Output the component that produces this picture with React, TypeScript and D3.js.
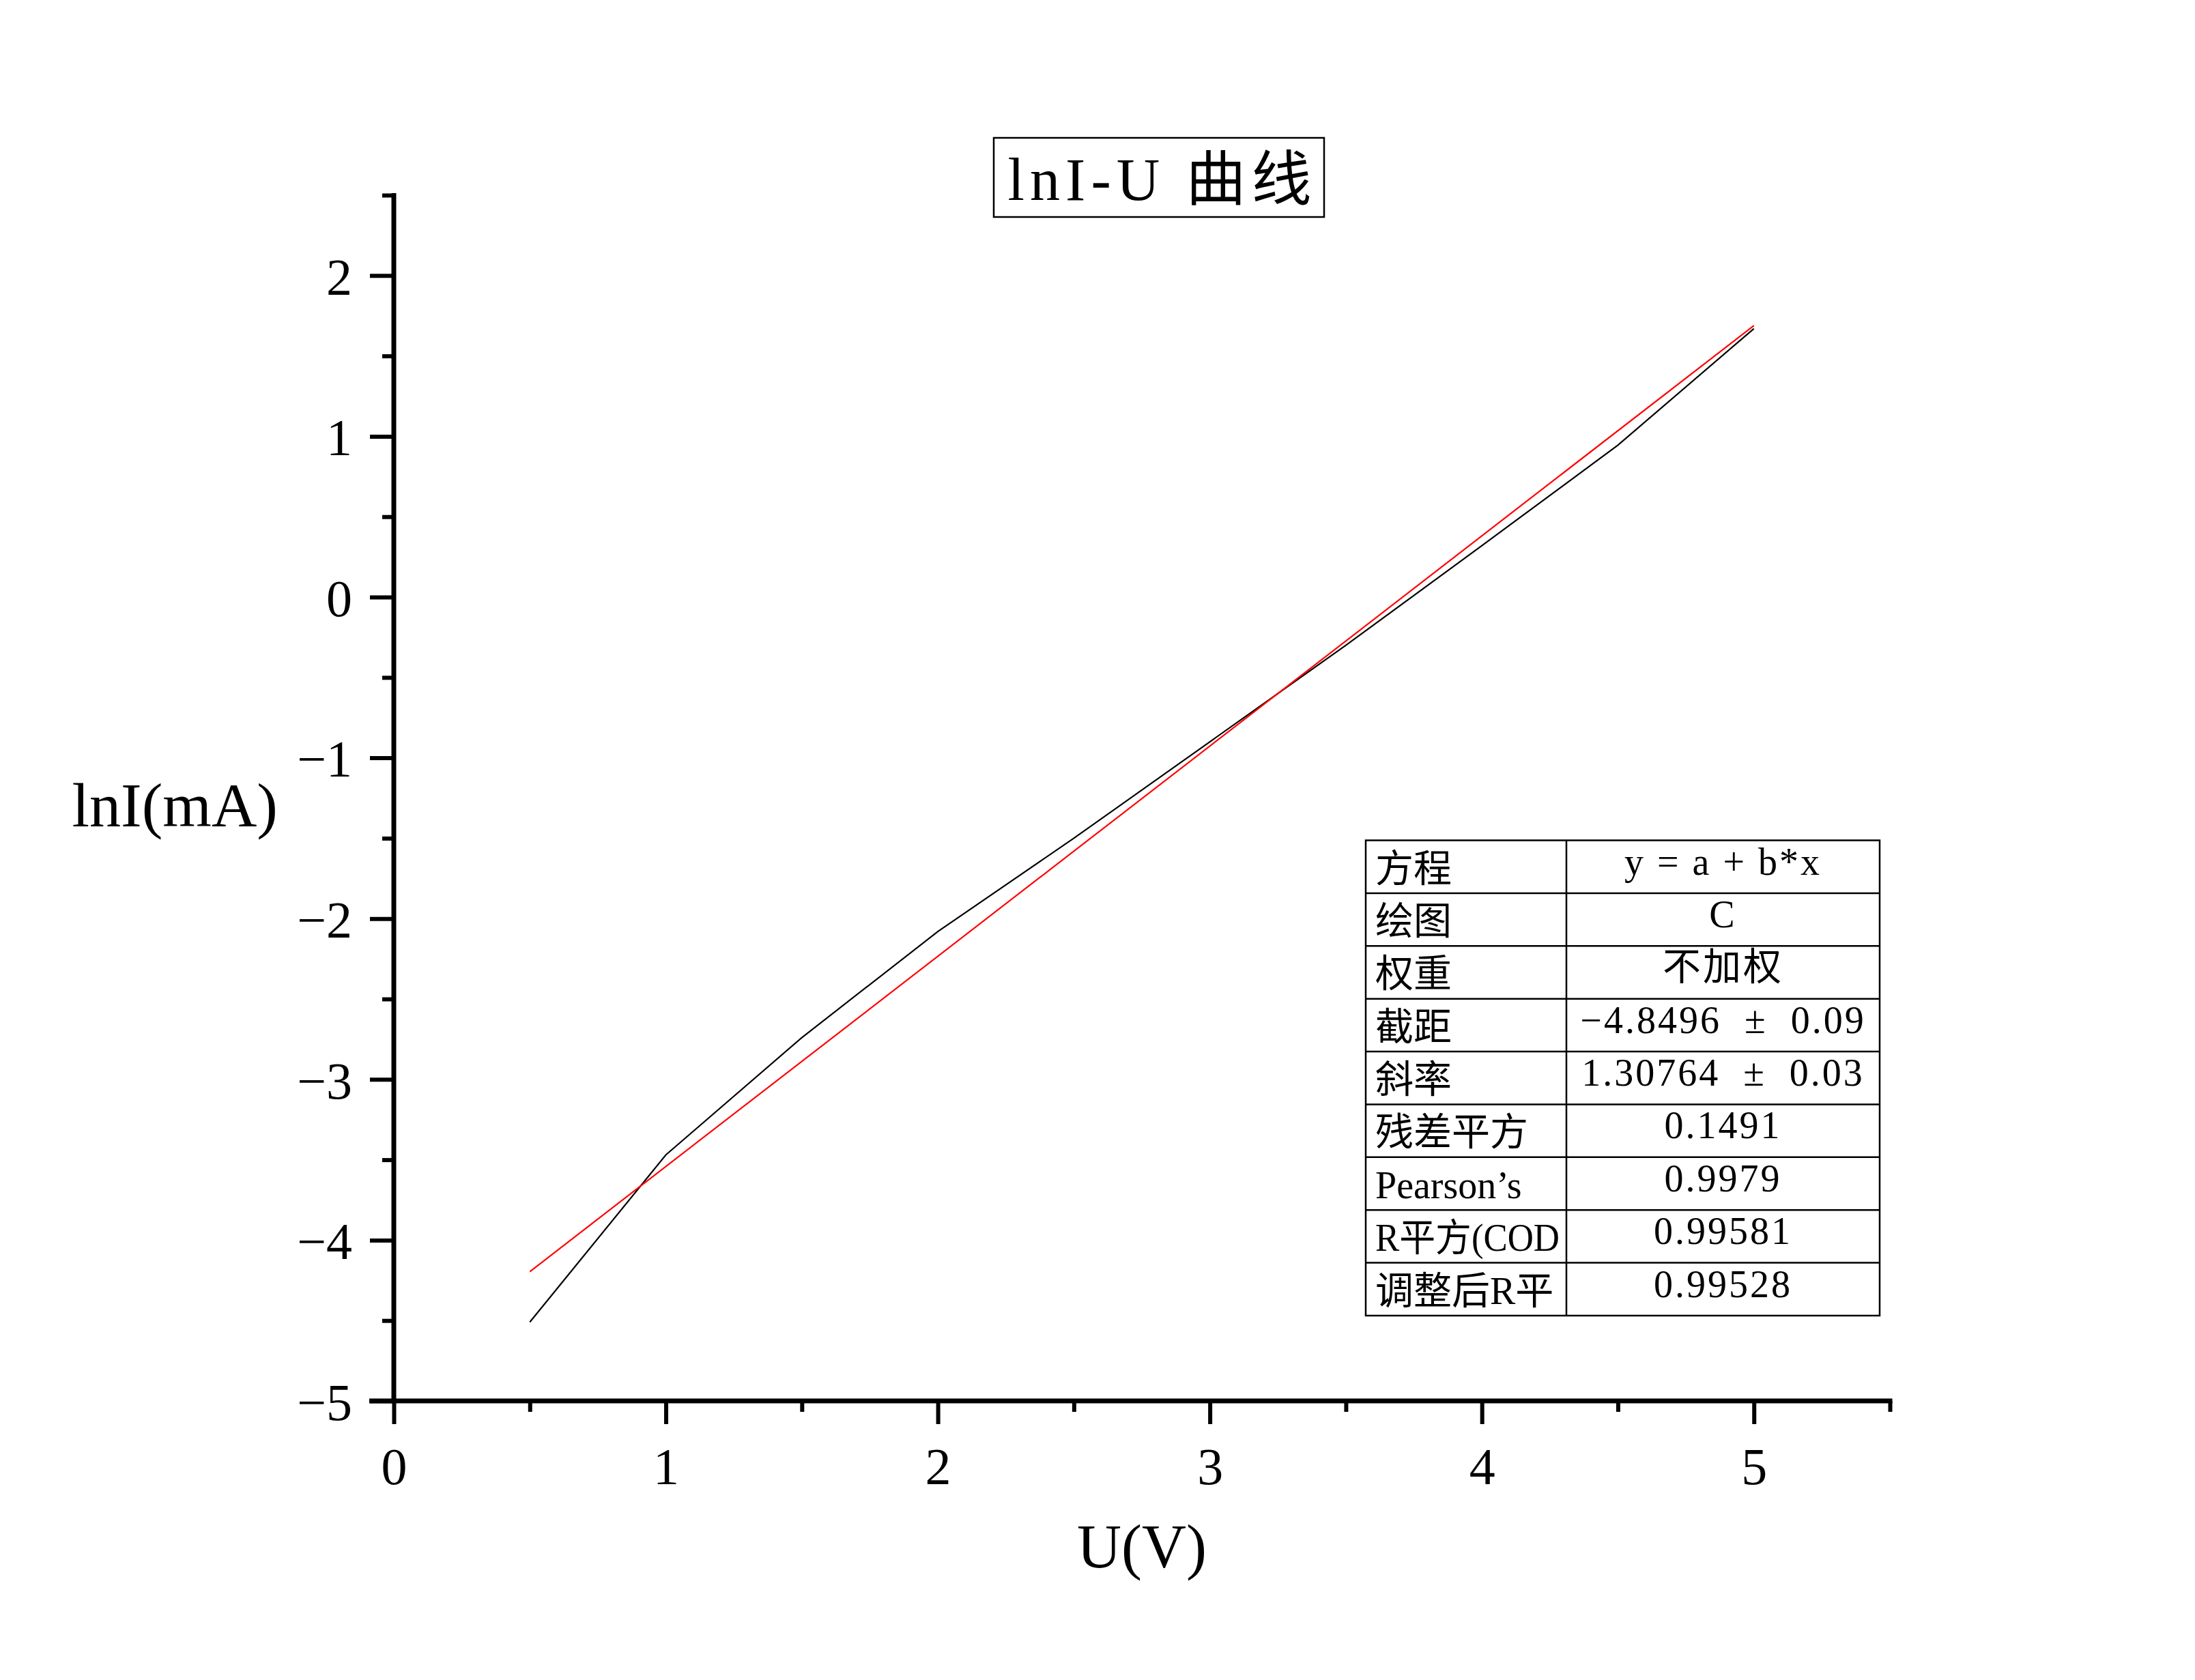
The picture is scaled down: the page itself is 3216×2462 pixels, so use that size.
import React, { useEffect, useRef } from "react";
import * as d3 from "d3";

// measured data (U in V, lnI with I in mA)
const voltage = [0.5, 1.0, 1.5, 2.0, 2.5, 3.0, 3.5, 4.0, 4.5, 5.0];
const lnCurrent = [-4.51, -3.47, -2.74, -2.08, -1.5, -0.9, -0.3, 0.32, 0.945, 1.67];

// linear fit y = a + b*x
const fitIntercept = -4.8496;
const fitSlope = 1.30764;

const xMajorTicks = [0, 1, 2, 3, 4, 5];
const xMinorTicks = [0.5, 1.5, 2.5, 3.5, 4.5, 5.5];
const yMajorTicks = [-5, -4, -3, -2, -1, 0, 1, 2];
const yMinorTicks = [-4.5, -3.5, -2.5, -1.5, -0.5, 0.5, 1.5, 2.5];

const statLabels = ["方程", "绘图", "权重", "截距", "斜率", "残差平方", "Pearson’s", "R平方(COD", "调整后R平"];
const statValues = ["y = a + b*x", "C", "不加权", "−4.8496  ±  0.09", "1.30764  ±  0.03", "0.1491", "0.9979", "0.99581", "0.99528"];

const chartTitle = "lnI-U 曲线";
const xTitle = "U(V)";
const yTitle = "lnI(mA)";

const FONT = "'Liberation Serif', 'Noto Sans CJK SC', serif";

const LnIChart: React.FC = () => {
  const svgRef = useRef<SVGSVGElement | null>(null);

  useEffect(() => {
    if (svgRef.current) drawChart(svgRef.current);
  }, []);

  const drawChart = (el: SVGSVGElement) => {
    const width = 3216;
    const height = 2462;

    d3.select(el).selectAll("*").remove();

    const svg = d3
      .select(el)
      .attr("width", width)
      .attr("height", height)
      .style("font-family", FONT);

    svg.append("rect").attr("width", width).attr("height", height).attr("fill", "#fff");

    const x = d3.scaleLinear().domain([0, 5.5]).range([577, 2769]);
    const y = d3.scaleLinear().domain([-5, 2.5]).range([2053, 286]);

    // x axis: minor then major ticks
    const xMinor = svg
      .append("g")
      .attr("transform", `translate(0,${y(-5)})`)
      .call(d3.axisBottom(x).tickValues(xMinorTicks).tickSize(16).tickSizeOuter(0).tickFormat(() => ""));
    xMinor.select(".domain").remove();
    xMinor.selectAll("line").attr("stroke", "#000").attr("stroke-width", 6);

    const xMajor = svg
      .append("g")
      .attr("transform", `translate(0,${y(-5)})`)
      .call(d3.axisBottom(x).tickValues(xMajorTicks).tickSize(34).tickSizeOuter(0).tickFormat(d3.format("d")));
    xMajor.select(".domain").remove();
    xMajor.selectAll("line").attr("stroke", "#000").attr("stroke-width", 6);
    xMajor
      .selectAll("text")
      .attr("y", 122)
      .attr("dy", null)
      .attr("fill", "#000")
      .style("font-family", FONT)
      .style("font-size", "76px");

    // y axis
    const yMinor = svg
      .append("g")
      .attr("transform", `translate(${x(0)},0)`)
      .call(d3.axisLeft(y).tickValues(yMinorTicks).tickSize(17).tickSizeOuter(0).tickFormat(() => ""));
    yMinor.select(".domain").remove();
    yMinor.selectAll("line").attr("stroke", "#000").attr("stroke-width", 6);

    const yMajor = svg
      .append("g")
      .attr("transform", `translate(${x(0)},0)`)
      .call(d3.axisLeft(y).tickValues(yMajorTicks).tickSize(35).tickSizeOuter(0).tickFormat(d3.format("d")));
    yMajor.select(".domain").remove();
    yMajor.selectAll("line").attr("stroke", "#000").attr("stroke-width", 6);
    yMajor
      .selectAll("text")
      .attr("x", -61)
      .attr("dy", "0.36em")
      .attr("fill", "#000")
      .style("font-family", FONT)
      .style("font-size", "76px");

    // axis lines
    svg
      .append("line")
      .attr("x1", x(0) - 36)
      .attr("x2", x(5.5) + 3.5)
      .attr("y1", y(-5))
      .attr("y2", y(-5))
      .attr("stroke", "#000")
      .attr("stroke-width", 7);
    svg
      .append("line")
      .attr("x1", x(0))
      .attr("x2", x(0))
      .attr("y1", y(2.5) - 3)
      .attr("y2", y(-5) + 3.5)
      .attr("stroke", "#000")
      .attr("stroke-width", 7);

    // axis titles
    svg
      .append("text")
      .attr("x", (x(0) + x(5.5)) / 2)
      .attr("y", 2297)
      .attr("text-anchor", "middle")
      .style("font-size", "90px")
      .text(xTitle);
    svg
      .append("text")
      .attr("x", 407)
      .attr("y", 1211)
      .attr("text-anchor", "end")
      .style("font-size", "92px")
      .text(yTitle);

    // data curve
    const pts: [number, number][] = voltage.map((v, i) => [v, lnCurrent[i]]);
    const line = d3
      .line<[number, number]>()
      .x((d) => x(d[0]))
      .y((d) => y(d[1]));
    svg
      .append("path")
      .datum(pts)
      .attr("d", line)
      .attr("fill", "none")
      .attr("stroke", "#000")
      .attr("stroke-width", 2.2);

    // fitted line
    const xs = d3.extent(voltage) as [number, number];
    const fitPts: [number, number][] = xs.map((v) => [v, fitIntercept + fitSlope * v]);
    svg
      .append("path")
      .datum(fitPts)
      .attr("d", line)
      .attr("fill", "none")
      .attr("stroke", "#ff0000")
      .attr("stroke-width", 2.2);

    // title box
    svg
      .append("rect")
      .attr("x", 1456)
      .attr("y", 202)
      .attr("width", 484)
      .attr("height", 116)
      .attr("fill", "#fff")
      .attr("stroke", "#000")
      .attr("stroke-width", 2.5);
    svg
      .append("text")
      .attr("x", 1699)
      .attr("y", 293)
      .attr("text-anchor", "middle")
      .attr("textLength", 445)
      .attr("lengthAdjust", "spacing")
      .style("font-size", "88px")
      .text(chartTitle);

    // fit statistics table
    const tLeft = 2001;
    const tMid = 2295;
    const tRight = 2754;
    const rowY = d3.scaleLinear().domain([0, statLabels.length]).range([1231.5, 1928]);
    const table = svg.append("g");
    table
      .append("rect")
      .attr("x", tLeft)
      .attr("y", rowY(0))
      .attr("width", tRight - tLeft)
      .attr("height", rowY(statLabels.length) - rowY(0))
      .attr("fill", "#fff")
      .attr("stroke", "#000")
      .attr("stroke-width", 2.5);
    table
      .selectAll("line.row")
      .data(d3.range(1, statLabels.length))
      .join("line")
      .attr("class", "row")
      .attr("x1", tLeft)
      .attr("x2", tRight)
      .attr("y1", (d) => rowY(d))
      .attr("y2", (d) => rowY(d))
      .attr("stroke", "#000")
      .attr("stroke-width", 2.5);
    table
      .append("line")
      .attr("x1", tMid)
      .attr("x2", tMid)
      .attr("y1", rowY(0))
      .attr("y2", rowY(statLabels.length))
      .attr("stroke", "#000")
      .attr("stroke-width", 2.5);
    const maxLabelW = tMid - tLeft - 24;
    table
      .selectAll("text.lbl")
      .data(statLabels)
      .join("text")
      .attr("class", "lbl")
      .attr("x", tLeft + 14)
      .attr("y", (_, i) => rowY(i) + 60)
      .style("font-size", "56px")
      .text((d) => d)
      .each(function () {
        const t = this as SVGTextElement;
        if (t.getComputedTextLength() > maxLabelW) {
          t.setAttribute("textLength", String(maxLabelW));
          t.setAttribute("lengthAdjust", "spacingAndGlyphs");
        }
      });
    table
      .selectAll("text.val")
      .data(statValues)
      .join("text")
      .attr("class", "val")
      .attr("x", (tMid + tRight) / 2)
      .attr("y", (_, i) => rowY(i) + 50)
      .attr("text-anchor", "middle")
      .style("font-size", "56px")
      .style("letter-spacing", "3px")
      .style("white-space", "pre")
      .text((d) => d);
  };

  return <svg ref={svgRef} style={{ position: "absolute", left: 0, top: 0, display: "block" }}></svg>;
};

export default function App() {
  return <LnIChart />;
}
